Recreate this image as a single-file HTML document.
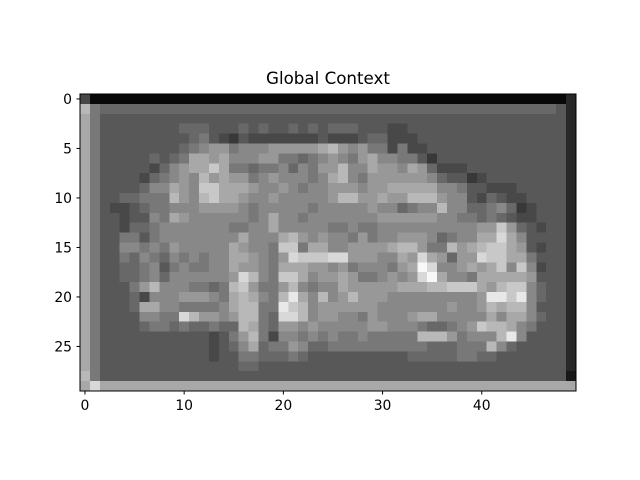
<!DOCTYPE html>
<html><head><meta charset="utf-8"><style>
html,body{margin:0;padding:0;background:#fff;}
svg{display:block;font-family:"DejaVu Sans","Liberation Sans",sans-serif;}
</style></head><body>
<svg id="chart" width="640" height="480" xmlns="http://www.w3.org/2000/svg">
<text x="328" y="84" font-size="16.7" text-anchor="middle" fill="#000">Global Context</text>
<g id="cells" shape-rendering="crispEdges"></g>
<g id="axes"></g>
</svg>
<script>
const S = (c, n) => c.repeat(n);
const rows = [
  "4" + S("0",48) + "2",
  "b7" + S("6",46) + "52",
  "a7" + S("5",46) + "52",
  "a7" + "55555555" + "666" + "5" + "55656556565" + "666" + "555" + "44" + S("5",15) + "52",
  "a7" + "5555555" + "55" + "6" + "7" + "5" + "4" + "3" + "5" + "444444" + "45" + "444" + "5" + "66" + "444" + S("5",14) + "52",
  "a7" + "55555" + "555" + "6" + "7" + "8" + "99" + "7" + "888" + "99999" + "a" + "b" + "9" + "8" + "9" + "77" + "4" + "7" + "44" + S("5",13) + "52",
  "a7" + "5555" + "5" + "6" + "5" + "6" + "7" + "aa" + "9" + "a" + "888" + "99" + "77" + "6" + "7" + "8" + "9" + "8" + "7" + "9" + "a" + "88" + "77" + "5" + "3" + S("5",12) + "52",
  "a7" + "555" + "55" + "4" + "6" + "8" + "9" + "aa" + "c" + "a" + "77" + "6" + "77" + "8" + "6" + "8" + "7" + "9" + "9" + "b" + "88" + "a" + "99" + "8" + "a" + "9" + "6" + "444" + S("5",9) + "52",
  "a7" + "55" + "55" + "4" + "6" + "7" + "8" + "9" + "8" + "b" + "9" + "a" + "99" + "7" + "8" + "9" + "888" + "7" + "8" + "a" + "b" + "8" + "7" + "999999" + "8" + "6" + "55" + "3" + "4" + S("5",7) + "52",
  "a7" + "5" + "555" + "6" + "88" + "a" + "9" + "8" + "cc" + "aaa" + "9" + "88" + "9" + "8" + "7" + "88" + "999" + "8" + "99" + "aaaaa" + "88" + "7" + "55" + "444" + "5555" + "52",
  "a7" + "5" + "5" + "66" + "777" + "b" + "9" + "8" + "b" + "c" + "aa" + "9" + "88" + "9" + "88888" + "9" + "bb" + "99" + "a" + "99" + "bbb" + "9" + "88" + "5" + "4" + "6" + "5" + "44" + "555" + "52",
  "a7" + "5" + "44" + "5" + "6" + "77" + "888" + "9999" + "8" + "7" + "88888" + "7" + "8" + "8888" + "9" + "88" + "6" + "7" + "88" + "b" + "88" + "66" + "7" + "8" + "6" + "3" + "4" + "55" + "52",
  "a7" + "5" + "5" + "4" + "55" + "8" + "7" + "a" + "9" + "888888" + "7" + "8" + "a" + "88" + "7" + "88" + "88888" + "999999" + "88" + "77" + "6" + "7" + "6" + "5" + "44" + "55" + "52",
  "a7" + "5" + "5" + "4" + "66" + "7" + "8888888" + "77" + "88" + "a" + "88888" + "77" + "8" + "77" + "8888888888" + "99" + "c" + "9" + "6" + "5" + "4" + "5" + "52",
  "a7" + "5" + "5" + "77" + "5" + "7" + "88888888" + "a" + "888" + "a" + "b" + "9" + "8" + "9" + "88" + "7" + "9" + "7" + "88" + "999" + "8" + "6" + "7" + "88" + "aa" + "d" + "a" + "8" + "555" + "52",
  "a7" + "5" + "5" + "88" + "7" + "8" + "7" + "9" + "88888" + "a" + "9" + "88" + "7" + "cc" + "7" + "aa" + "88" + "9999" + "a" + "bb" + "9" + "77" + "b" + "9" + "a" + "b" + "cc" + "a" + "9" + "5" + "4" + "5" + "52",
  "a7" + "5" + "5" + "7" + "6" + "8" + "7" + "6" + "8" + "7" + "8" + "7" + "88" + "aa" + "9" + "8" + "7" + "9" + "d" + "ccc" + "dd" + "999" + "88" + "a" + "9" + "d" + "a" + "9" + "6" + "99" + "d" + "cc" + "aa" + "7" + "55" + "52",
  "a7" + "5" + "5" + "66" + "7" + "8" + "5" + "7" + "8" + "77" + "88" + "a" + "99" + "8" + "7" + "aaa" + "99" + "8" + "9" + "7" + "888" + "7" + "9" + "a" + "f" + "d" + "88" + "9" + "a" + "9" + "a" + "c" + "8" + "c" + "8" + "4" + "5" + "52",
  "a7" + "5" + "5" + "66" + "7" + "8" + "6" + "888888" + "9" + "d" + "b" + "8" + "7" + "cc" + "a" + "8" + "9" + "9" + "a" + "9" + "77" + "8" + "9" + "8" + "9" + "d" + "f" + "a" + "88" + "7" + "aaaaa" + "9" + "55" + "52",
  "a7" + "5" + "55" + "7" + "9" + "b" + "888" + "77" + "6" + "7" + "b" + "c" + "9" + "77" + "9" + "b" + "8" + "7" + "8" + "8" + "a" + "99999" + "aaa" + "bb" + "ccc" + "a" + "9" + "b" + "cc" + "8" + "6" + "5" + "52",
  "a7" + "5" + "55" + "6" + "4" + "888" + "999" + "8" + "7" + "a" + "b" + "a" + "8" + "7" + "b" + "e" + "a" + "8" + "b" + "8" + "9" + "b" + "999" + "888888888" + "9" + "ee" + "c" + "e" + "8" + "6" + "5" + "52",
  "a7" + "5" + "55" + "6" + "aa" + "88" + "7777" + "8" + "a" + "bb" + "77" + "e" + "c" + "b" + "8" + "9" + "99999" + "8888888" + "9" + "88" + "9" + "b" + "a" + "bb" + "8" + "55" + "52",
  "a7" + "5" + "555" + "88" + "77" + "d" + "b" + "99" + "8" + "9" + "bb" + "7" + "6" + "dd" + "b" + "8" + "9" + "9" + "88" + "7" + "9" + "888" + "9" + "aa" + "88888" + "a" + "8" + "aa" + "8" + "6" + "5" + "52",
  "a7" + "5" + "555" + "6" + "77" + "6" + "7" + "66" + "7" + "66" + "b" + "a" + "7" + "6" + "99" + "8" + "9" + "8" + "8888" + "99" + "888" + "7" + "66" + "7" + "8" + "9" + "c" + "bb" + "a" + "8" + "7" + "55" + "52",
  "a7" + S("5",11) + "4" + "5" + "7" + "9" + "b" + "7" + "4" + "88" + "7" + "8" + "7" + "8" + "77" + "8" + "77777" + "bbb" + "9" + "7" + "888" + "b" + "e" + "8" + "555" + "52",
  "a7" + S("5",11) + "4" + "5" + "6" + "8" + "a" + "6" + "77" + "9" + "8" + "66" + S("7",10) + "666" + "777" + "b" + "8" + "6" + "5555" + "52",
  "a7" + S("5",11) + "4" + "55" + "77" + "666" + "7" + "6" + S("5",10) + "66666" + "77" + "66" + "555555" + "52",
  "a7" + S("5",14) + "66" + S("5",30) + "52",
  "b7" + S("5",46) + "51",
  "ad" + S("a",48)
];
const xTicks = [0, 10, 20, 30, 40];
const yTicks = [0, 5, 10, 15, 20, 25];

const NS = "http://www.w3.org/2000/svg";
const nCols = 50, nRows = 30;
const leftX = 80, topY = 94, rightX = 576, bottomY = 391;
const cw = (rightX - leftX) / nCols, ch = (bottomY - topY) / nRows;
const xPix = c => leftX + c * cw;
const yPix = r => topY + r * ch;
const gray = d => { const v = Math.min(255, parseInt(d, 16) * 16 + 8); return `rgb(${v},${v},${v})`; };

const cells = document.getElementById('cells');
rows.forEach((row, r) => {
  for (let c = 0; c < nCols; c++) {
    const rect = document.createElementNS(NS, 'rect');
    
    
    rect.setAttribute('x', xPix(c).toFixed(2));
    rect.setAttribute('y', yPix(r).toFixed(2));
    rect.setAttribute('width', (cw + 0.6).toFixed(2));
    rect.setAttribute('height', (ch + 0.6).toFixed(2));
    rect.setAttribute('fill', gray(row[c] || '5'));
    cells.appendChild(rect);
  }
});

const axes = document.getElementById('axes');
const frame = document.createElementNS(NS, 'rect');


frame.setAttribute('x', leftX); frame.setAttribute('y', topY);
frame.setAttribute('width', rightX - leftX); frame.setAttribute('height', bottomY - topY);
frame.setAttribute('fill', 'none'); frame.setAttribute('stroke', '#000'); frame.setAttribute('stroke-width', '1');
axes.appendChild(frame);

xTicks.forEach(t => {
  const x = xPix(t + 0.5);
  const ln = document.createElementNS(NS, 'line');
  
  
  ln.setAttribute('x1', x); ln.setAttribute('x2', x);
  ln.setAttribute('y1', bottomY); ln.setAttribute('y2', bottomY + 3.5);
  ln.setAttribute('stroke', '#000');
  axes.appendChild(ln);
  const tx = document.createElementNS(NS, 'text');
  
  
  tx.setAttribute('x', x); tx.setAttribute('y', bottomY + 19);
  tx.setAttribute('font-size', '13.9'); tx.setAttribute('text-anchor', 'middle');
  tx.textContent = t;
  axes.appendChild(tx);
});
yTicks.forEach(t => {
  const y = yPix(t + 0.5);
  const ln = document.createElementNS(NS, 'line');
  
  
  ln.setAttribute('x1', leftX - 3.5); ln.setAttribute('x2', leftX);
  ln.setAttribute('y1', y); ln.setAttribute('y2', y);
  ln.setAttribute('stroke', '#000');
  axes.appendChild(ln);
  const tx = document.createElementNS(NS, 'text');
  
  
  tx.setAttribute('x', leftX - 8); tx.setAttribute('y', y + 5);
  tx.setAttribute('font-size', '13.9'); tx.setAttribute('text-anchor', 'end');
  tx.textContent = t;
  axes.appendChild(tx);
});
</script>
</body></html>
